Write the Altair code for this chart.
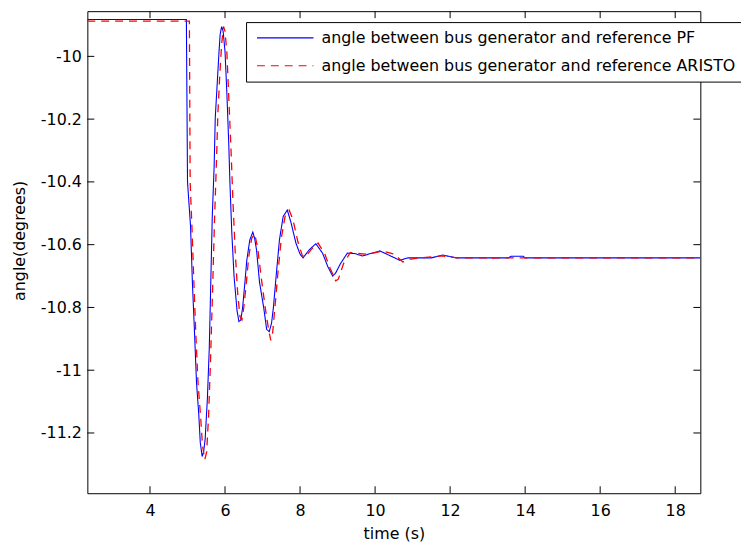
import altair as alt
import pandas as pd

# ---------------- data ----------------
LABEL_PF = "angle between bus generator and reference PF"
LABEL_AR = "angle between bus generator and reference ARISTO"

pf_t = [2.33, 4.97, 5.0, 5.04, 5.08, 5.13, 5.18, 5.24, 5.30, 5.34, 5.39, 5.43, 5.47,
        5.53, 5.58, 5.61, 5.66, 5.71, 5.74, 5.79, 5.84, 5.87, 5.91, 5.95, 6.0, 6.05,
        6.1, 6.13, 6.18, 6.24, 6.32, 6.37, 6.42, 6.47, 6.53, 6.58, 6.66, 6.74, 6.79,
        6.84, 6.92, 7.03, 7.11, 7.18, 7.24, 7.29, 7.37, 7.45, 7.55, 7.66, 7.76, 7.89,
        8.0, 8.08, 8.24, 8.42, 8.6, 8.74, 8.87, 8.95, 9.08, 9.26, 9.45, 9.66, 9.92,
        10.13, 10.45, 10.66, 10.87, 11.5, 11.8, 12.16, 13.55, 13.63, 13.95, 14.0, 18.67]
pf_v = [-9.8825, -9.8825, -10.40, -10.47, -10.54, -10.72, -10.86, -11.04, -11.14,
        -11.23, -11.275, -11.26, -11.22, -11.09, -10.93, -10.775, -10.51, -10.35,
        -10.195, -10.09, -9.985, -9.93, -9.905, -9.92, -9.985, -10.12, -10.28, -10.40,
        -10.56, -10.70, -10.81, -10.845, -10.84, -10.80, -10.72, -10.65, -10.585,
        -10.56, -10.58, -10.617, -10.72, -10.80, -10.87, -10.877, -10.85, -10.80,
        -10.69, -10.585, -10.51, -10.49, -10.53, -10.595, -10.63, -10.642, -10.617,
        -10.597, -10.627, -10.67, -10.70, -10.69, -10.66, -10.627, -10.628, -10.636,
        -10.627, -10.62, -10.638, -10.65, -10.642, -10.642, -10.633, -10.642, -10.642,
        -10.637, -10.637, -10.642, -10.642]

ar_t = [2.33, 5.05, 5.07, 5.12, 5.17, 5.22, 5.28, 5.35, 5.40, 5.46, 5.51, 5.56, 5.61,
        5.66, 5.72, 5.77, 5.81, 5.86, 5.91, 5.96, 6.0, 6.05, 6.1, 6.16, 6.21, 6.27,
        6.34, 6.40, 6.45, 6.50, 6.57, 6.63, 6.71, 6.79, 6.87, 6.96, 7.07, 7.16, 7.22,
        7.27, 7.33, 7.41, 7.50, 7.60, 7.71, 7.81, 7.94, 8.06, 8.14, 8.30, 8.48, 8.66,
        8.80, 8.95, 9.02, 9.16, 9.34, 9.54, 9.74, 9.98, 10.2, 10.5, 10.74, 10.95, 11.2,
        11.76, 12.2, 13.05, 13.1, 13.15, 18.67]
ar_v = [-9.888, -9.888, -10.40, -10.55, -10.72, -10.88, -11.04, -11.15, -11.24,
        -11.285, -11.26, -11.15, -10.98, -10.78, -10.52, -10.34, -10.18, -10.06,
        -9.96, -9.905, -9.92, -9.99, -10.13, -10.30, -10.46, -10.62, -10.76, -10.83,
        -10.84, -10.80, -10.72, -10.64, -10.58, -10.565, -10.61, -10.70, -10.80,
        -10.87, -10.905, -10.88, -10.80, -10.69, -10.58, -10.51, -10.49, -10.52,
        -10.59, -10.635, -10.64, -10.615, -10.595, -10.63, -10.675, -10.715, -10.71,
        -10.66, -10.625, -10.628, -10.63, -10.626, -10.62, -10.63, -10.655, -10.646,
        -10.642, -10.636, -10.642, -10.642, -10.646, -10.642, -10.642]

x_ticks = [4, 6, 8, 10, 12, 14, 16, 18]
y_ticks = [-11.2, -11.0, -10.8, -10.6, -10.4, -10.2, -10.0]

X_DOMAIN = [2.33, 18.67]
Y_DOMAIN = [-11.392, -9.856]

W, H = 618, 486
FONT = "DejaVu Sans"

df = pd.concat([
    pd.DataFrame({"t": pf_t, "v": pf_v, "series": LABEL_PF}),
    pd.DataFrame({"t": ar_t, "v": ar_v, "series": LABEL_AR}),
])
xt = pd.DataFrame({"t": x_ticks})
yt = pd.DataFrame({"v": y_ticks})

xscale = alt.Scale(domain=X_DOMAIN, nice=False, zero=False)
yscale = alt.Scale(domain=Y_DOMAIN, nice=False, zero=False)

xenc = alt.X("t:Q", scale=xscale, title="time (s)",
             axis=alt.Axis(values=x_ticks, ticks=False, domain=False, grid=False,
                           labelPadding=9, titlePadding=8, format="d"))
yenc = alt.Y("v:Q", scale=yscale, title="angle(degrees)",
             axis=alt.Axis(values=y_ticks, ticks=False, domain=False, grid=False,
                           labelPadding=6, titlePadding=13, titleY=231,
                           labelExpr="'-' + format(-datum.value, '.1~f')"))

color = alt.Color("series:N",
                  scale=alt.Scale(domain=[LABEL_PF, LABEL_AR], range=["#0000ff", "#ff0000"]),
                  legend=alt.Legend(title=None, orient="none", legendX=160, legendY=11,
                                    symbolType="M-1,0L10.4,0", symbolSize=100,
                                    symbolStrokeWidth=1.2, labelOffset=52,
                                    symbolFillColor="transparent",
                                    labelFont=FONT, labelFontSize=16, labelColor="black",
                                    strokeColor="black", fillColor="white",
                                    padding=8, rowPadding=12, labelLimit=600))
dash = alt.StrokeDash("series:N",
                      scale=alt.Scale(domain=[LABEL_PF, LABEL_AR], range=[[1, 0], [8, 6]]),
                      legend=None)

base = alt.Chart(df)
line_pf = base.transform_filter(alt.datum.series == LABEL_PF).mark_line(
    strokeWidth=1.1, clip=True).encode(x=xenc, y=yenc, color=color, strokeDash=dash)
line_ar = base.transform_filter(alt.datum.series == LABEL_AR).mark_line(
    strokeWidth=1.3, clip=True).encode(x=xenc, y=yenc, color=color, strokeDash=dash)

tick_color = "black"
xt_bottom = alt.Chart(xt).mark_rule(color=tick_color).encode(
    x=alt.X("t:Q", scale=xscale), y=alt.value(H), y2=alt.value(H - 7))
xt_top = alt.Chart(xt).mark_rule(color=tick_color).encode(
    x=alt.X("t:Q", scale=xscale), y=alt.value(0), y2=alt.value(7))
yt_left = alt.Chart(yt).mark_rule(color=tick_color).encode(
    y=alt.Y("v:Q", scale=yscale), x=alt.value(0), x2=alt.value(7))
yt_right = alt.Chart(yt).mark_rule(color=tick_color).encode(
    y=alt.Y("v:Q", scale=yscale), x=alt.value(W), x2=alt.value(W - 7))

chart = alt.layer(xt_bottom, xt_top, yt_left, yt_right, line_pf, line_ar).properties(
    width=W, height=H,
    autosize=alt.AutoSizeParams(type="none"),
    padding={"left": 80, "top": 1, "right": 41, "bottom": 51},
).configure(background="white").configure_view(
    stroke="black", strokeWidth=1
).configure_axis(
    labelFont=FONT, labelFontSize=16, labelColor="black",
    titleFont=FONT, titleFontSize=16, titleColor="black", titleFontWeight="normal",
)

chart.save("out.html", embed_options={"renderer": "svg", "actions": False})
